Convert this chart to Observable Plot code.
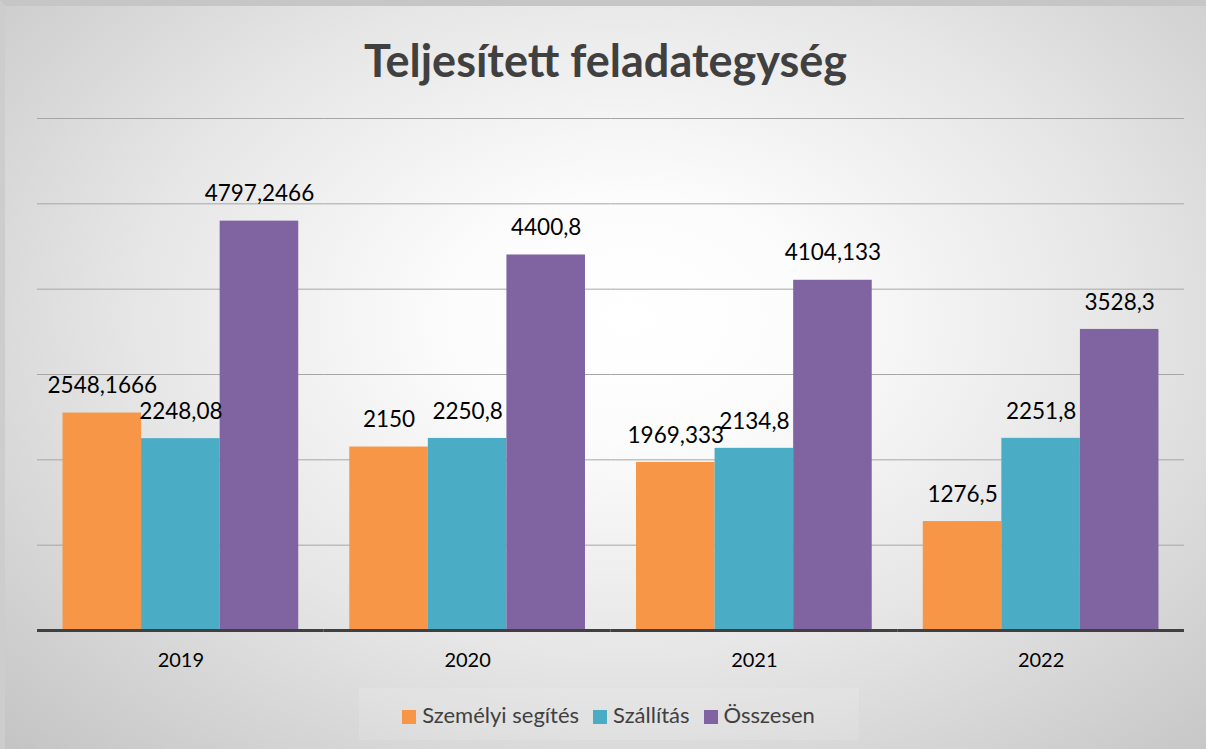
<!DOCTYPE html>
<html><head><meta charset="utf-8">
<script src="https://cdn.jsdelivr.net/npm/d3@7"></script>
<script src="https://cdn.jsdelivr.net/npm/@observablehq/plot@0.6"></script>
<style>
html,body{margin:0;padding:0;}
#wrap{position:relative;width:1206px;height:749px;overflow:hidden;box-sizing:border-box;
 border-top:6px solid #c6c6c6;border-left:5px solid #cdcdcd;
 background:radial-gradient(ellipse farthest-corner at 52% 42%, #ffffff 0%, #fcfcfc 20%, #e6e6e6 56%, #c4c4c4 100%);
 font-family:Lato,"Open Sans",sans-serif;}
#title{height:94px;text-align:center;font-weight:bold;font-size:45px;color:#404040;line-height:108px;}
#legend{display:flex;justify-content:center;gap:14px;font-size:22px;color:#404040;
 width:500px;margin:6px auto 0 auto;padding:13px 0 12px 0;background:rgba(255,255,255,0.12);position:relative;left:3px;}
#legend span.sw{display:inline-block;width:14px;height:14px;margin-right:6px;vertical-align:-1px;}
</style></head>
<body><div id="wrap"><div id="title">Teljesített feladategység</div><div id="chart"></div><div id="legend"></div></div>
<script>
const years = ["2019","2020","2021","2022"];
const series = ["Személyi segítés","Szállítás","Összesen"];
const szemelyi = [2548.1666, 2150, 1969.333, 1276.5];
const szallitas = [2248.08, 2250.8, 2134.8, 2251.8];
const osszesen = [4797.2466, 4400.8, 4104.133, 3528.3];
const colors = ["#F79646","#4BACC6","#8064A2"];
const gridTicks = [1000,2000,3000,4000,5000,6000];

const seriesValues = [szemelyi, szallitas, osszesen];
const data = [];
years.forEach((y,i)=>series.forEach((s,j)=>data.push({year:y, series:s, value:seriesValues[j][i]})));
const fmt = v => String(v).replace(".", ",");

const plot = Plot.plot({
  width: 1201, height: 582,
  marginTop: 18, marginBottom: 52, marginLeft: 32, marginRight: 22,
  style: {background:"transparent", fontFamily:"Lato, 'Open Sans', sans-serif", overflow:"visible"},
  fx: {domain: years, paddingInner: 0.178, paddingOuter: 0.089, round: false, label: null},
  x: {domain: series, padding: 0, round: false, axis: null},
  y: {domain: [0, 6000], axis: null},
  color: {domain: series, range: colors},
  marks: [
    Plot.ruleY(gridTicks, {stroke:"#a6a6a6", strokeWidth:1, insetLeft:-25.5, insetRight:-25.5}),
    Plot.barY(data, {fx:"year", x:"series", y:"value", fill:"series"}),
    Plot.text(data, {fx:"year", x:"series", y:"value", text: d=>fmt(d.value), dy:-27, fontSize:22.5, fill:"#000"}),
    Plot.ruleY([0], {stroke:"#404040", strokeWidth:3, insetLeft:-25.5, insetRight:-25.5}),
    Plot.axisFx({anchor:"bottom", tickSize:0, fontSize:20, color:"#000", tickPadding:22, label:null})
  ]
});
document.getElementById("chart").appendChild(plot);

const lg = document.getElementById("legend");
series.forEach((s,i)=>{
  const d = document.createElement("div");
  d.innerHTML = `<span class="sw" style="background:${colors[i]}"></span>${s}`;
  lg.appendChild(d);
});
</script></body></html>
